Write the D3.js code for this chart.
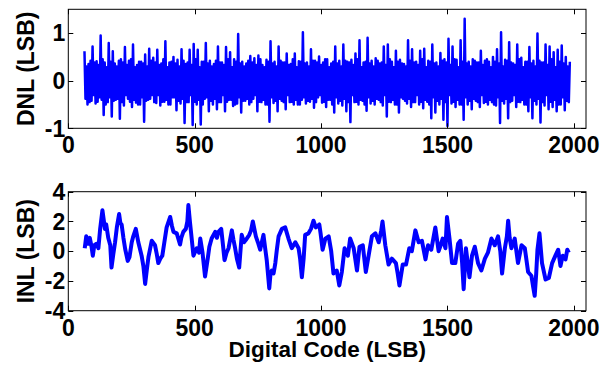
<!DOCTYPE html>
<html>
<head>
<meta charset="utf-8">
<script src="https://cdn.jsdelivr.net/npm/d3@7"></script>
<style>
  body { margin: 0; background: #fff; }
  svg { display: block; }
  text { font-family: "Liberation Sans", Arial, sans-serif; font-weight: bold; fill: #000; }
</style>
</head>
<body>
<svg id="chart" width="612" height="365"></svg>
<script>
// x axis (digital code)
const xDomain = [0, 2048];
const xTicks = [0, 500, 1000, 1500, 2000];

// DNL: one value per 4 codes, starting at code 64
const dnlStart = 64, dnlStep = 4;
const dnlValues = [
  0.62,-0.38,0.3,-0.5, 0.35,-0.45,0.42,-0.42, 0.72,-0.3,0.38,-0.48, 0.41,-0.44,0.33,-0.35, 0.95,-0.4,0.45,-0.72,
  0.38,-0.5,0.28,-0.45, 0.79,-0.35,0.4,-0.75, 0.62,-0.42,0.36,-0.4, 0.3,-0.38,0.42,-0.8, 0.45,-0.45,0.38,-0.52,
  0.71,-0.3,0.33,-0.38, 0.42,-0.44,0.45,-0.55, 0.76,-0.4,0.28,-0.46, 0.33,-0.5,0.4,-0.5, 0.4,-0.35,0.36,-0.86,
  0.55,-0.42,0.3,-0.4, 0.67,-0.38,0.42,-0.3, 0.48,-0.45,0.38,-0.47, 0.65,-0.3,0.33,-0.52, 0.36,-0.44,0.45,-0.44,
  0.83,-0.4,0.28,-0.5, 0.38,-0.5,0.4,-0.35, 0.5,-0.35,0.36,-0.62, 0.44,-0.42,0.3,-0.48, 0.66,-0.38,0.42,-0.89,
  0.35,-0.45,0.38,-0.45, 0.65,-0.3,0.33,-0.93, 0.77,-0.44,0.45,-0.5, 0.65,-0.4,0.28,-0.92, 0.4,-0.5,0.4,-0.38,
  0.79,-0.35,0.36,-0.64, 0.42,-0.42,0.3,-0.5, 0.35,-0.38,0.42,-0.6, 0.72,-0.45,0.38,-0.45, 0.38,-0.3,0.33,-0.64,
  0.71,-0.44,0.45,-0.4, 0.6,-0.4,0.28,-0.53, 0.45,-0.5,0.4,-0.48, 0.98,-0.35,0.36,-0.67, 0.4,-0.42,0.3,-0.42,
  0.36,-0.38,0.42,-0.5, 0.52,-0.45,0.38,-0.38, 0.47,-0.3,0.33,-0.64, 0.53,-0.44,0.45,-0.45, 0.33,-0.4,0.28,-0.5,
  0.44,-0.5,0.4,-0.86, 0.83,-0.35,0.36,-0.47, 0.4,-0.42,0.3,-0.64, 0.72,-0.38,0.42,-0.42, 0.38,-0.45,0.38,-0.6,
  0.57,-0.3,0.33,-0.45, 0.35,-0.44,0.45,-0.5, 0.57,-0.4,0.28,-0.5, 0.41,-0.5,0.4,-0.4, 1.02,-0.35,0.36,-0.48,
  0.38,-0.42,0.3,-0.44, 0.66,-0.38,0.42,-0.57, 0.42,-0.45,0.38,-0.35, 0.51,-0.3,0.33,-0.46, 0.38,-0.44,0.45,-0.55,
  0.45,-0.4,0.28,-0.4, 0.36,-0.5,0.4,-0.67, 0.72,-0.35,0.36,-0.48, 0.42,-0.42,0.3,-0.52, 0.76,-0.38,0.42,-0.64,
  0.4,-0.45,0.38,-0.87, 0.44,-0.3,0.33,-0.45, 0.57,-0.44,0.45,-0.5, 0.85,-0.4,0.28,-0.42, 0.38,-0.5,0.4,-0.63,
  0.9,-0.35,0.36,-0.48, 0.42,-0.42,0.3,-0.5, 0.47,-0.38,0.42,-0.4, 0.36,-0.45,0.38,-0.52, 0.72,-0.3,0.33,-0.75,
  0.76,-0.44,0.45,-0.45, 0.4,-0.4,0.28,-0.5, 0.63,-0.5,0.4,-0.67, 0.44,-0.35,0.36,-0.38, 0.35,-0.42,0.3,-0.48,
  0.85,-0.38,0.42,-0.55, 0.66,-0.45,0.38,-0.45, 0.4,-0.3,0.33,-0.5, 0.63,-0.44,0.45,-0.58, 0.67,-0.4,0.28,-0.44,
  0.42,-0.5,0.4,-0.79, 0.76,-0.35,0.36,-0.67, 0.38,-0.42,0.3,-0.5, 0.58,-0.38,0.42,-0.82, 0.45,-0.45,0.38,-0.95,
  0.88,-0.3,0.33,-0.48, 0.72,-0.44,0.45,-0.55, 0.44,-0.4,0.28,-0.5, 0.85,-0.5,0.4,-0.82, 1.3,-0.35,0.36,-0.5,
  0.4,-0.42,0.3,-0.6, 0.45,-0.38,0.42,-0.42, 0.38,-0.45,0.38,-0.55, 0.63,-0.3,0.33,-0.47, 0.42,-0.44,0.45,-0.5,
  0.4,-0.4,0.28,-0.45, 0.5,-0.5,0.4,-0.52, 0.66,-0.35,0.36,-0.89, 1.02,-0.42,0.3,-0.48, 0.44,-0.38,0.42,-0.79,
  0.81,-0.45,0.38,-0.42, 0.36,-0.3,0.33,-0.55, 0.76,-0.44,0.45,-0.45, 0.48,-0.4,0.28,-0.5, 0.4,-0.5,0.4,-0.64,
  0.71,-0.35,0.36,-0.79, 0.42,-0.42,0.3,-0.5, 0.99,-0.38,0.42,-0.88, 0.38,-0.45,0.38,-0.52, 0.76,-0.3,0.33,-0.6,
  0.72,-0.44,0.45,-0.55, 0.6,-0.4,0.28,-0.64, 0.65,-0.5,0.4,-0.5, 0.74,-0.35,0.36,-0.62, 0.5,-0.42,0.3,-0.45,
  0.4
];
const dnlDomain = [-1, 1.5];
const dnlTicks = [-1, 0, 1];

const inlCodes = [
  65, 71, 79, 85, 92, 97, 103, 112, 119, 126, 135, 145, 150, 158, 166, 171, 178, 185, 192, 201,
  206, 211, 218, 225, 235, 242, 251, 257, 267, 277, 290, 297, 304, 311, 317, 330, 343, 350, 356, 364,
  372, 380, 389, 403, 410, 416, 429, 442, 447, 455, 465, 471, 475, 481, 486, 495, 508, 517, 522, 531,
  541, 552, 558, 567, 581, 588, 594, 605, 612, 618, 626, 634, 647, 653, 660, 667, 676, 686, 695, 702,
  716, 723, 730, 742, 750, 759, 772, 778, 785, 795, 800, 805, 812, 819, 825, 832, 845, 858, 865, 871,
  884, 898, 911, 917, 924, 931, 937, 950, 960, 970, 979, 993, 998, 1006, 1017, 1030, 1040, 1049, 1062, 1072,
  1082, 1093, 1106, 1115, 1129, 1142, 1152, 1165, 1177, 1191, 1201, 1215, 1228, 1238, 1243, 1254, 1267, 1280, 1296, 1303,
  1310, 1323, 1336, 1349, 1359, 1373, 1386, 1399, 1413, 1423, 1436, 1452, 1465, 1473, 1481, 1492, 1498, 1508, 1518, 1531,
  1542, 1551, 1558, 1564, 1573, 1587, 1597, 1608, 1621, 1634, 1648, 1660, 1674, 1687, 1700, 1709, 1716, 1727, 1735, 1740,
  1746, 1753, 1766, 1779, 1793, 1806, 1819, 1832, 1839, 1845, 1851, 1856, 1864, 1874, 1888, 1901, 1914, 1927, 1938, 1947,
  1956, 1967, 1974, 1980
];
const inlValues = [
  0.2, 1.0, 0.5, 0.9, 0.3, -0.3, 0.4, 0.5, 0.2, 1.5, 2.75, 1.5, 1.8, 0.9, 0.4, -1.1, -0.2, 0.6, 1.6, 2.5,
  1.9, 1.8, 0.9, 0.15, -0.65, -0.4, 0.6, 1.0, 1.5, 0.6, -0.3, -1.0, -2.2, -1.2, -0.4, 0.7, 0.4, -0.2, -0.8, -0.5,
  -0.3, 0.6, 1.6, 2.3, 1.7, 1.3, 1.2, 0.45, 0.9, 1.3, 1.5, 2.0, 3.1, 2.0, 1.2, -0.3, 0.2, -0.1, 0.85, -0.1,
  -1.7, -0.45, 0.3, 0.85, 1.3, 0.9, 1.3, 1.5, 0.4, -0.6, -0.1, 0.2, 1.4, 0.8, 0.2, -0.5, -1.1, 1.1, 0.6, 0.75,
  1.1, 1.4, 2.0, 1.0, 0.6, 0.1, 1.1, 0.3, -0.6, -2.5, -1.5, -1.3, -1.5, -0.8, 0.1, 1.0, 1.5, 1.6, 1.2, 0.85,
  0.2, 0.6, 0.2, -0.5, -1.75, -0.5, 1.1, 1.2, 1.5, 2.05, 1.6, 1.8, 1.2, 0.1, 0.85, 1.0, 0.0, -1.5, -1.3, -2.3,
  -1.4, 0.2, -0.3, 0.85, 0.2, -1.3, 0.3, 0.4, -1.4, 0.0, 1.0, 1.2, 0.6, 1.4, 2.0, 0.4, -0.9, -0.5, -0.8, -1.5,
  -2.3, -0.9, -0.9, 0.2, 0.0, 1.4, 0.6, 0.7, -0.55, 0.4, 0.1, 1.6, 0.0, 0.4, 0.85, 0.2, 2.3, 0.85, -0.8, -0.8,
  0.5, 0.7, -0.8, -2.55, 0.2, -1.75, -0.3, 0.3, -0.8, -1.3, -0.5, -0.1, 0.85, 0.4, 1.0, 0.0, -1.5, 0.2, 1.0, 2.05,
  0.9, 0.2, 0.85, -0.8, 0.4, 0.2, -1.4, -1.65, -2.4, -3.0, -1.5, 0.1, 1.2, -0.8, -1.9, -1.8, -0.8, -0.3, 0.1, -1.0,
  -0.3, -0.55, 0.1, -0.1
];
const inlDomain = [-4, 4];
const inlTicks = [-4, -2, 0, 2, 4];

const svg = d3.select('#chart');
const left = 68.3, right = 586;
const x = d3.scaleLinear().domain(xDomain).range([left, right]);

function panel(top, bottom, yDomain, yTicks, label, points, strokeW, id) {
  const y = d3.scaleLinear().domain(yDomain).range([bottom, top]);
  const g = svg.append('g');

  g.append('clipPath').attr('id', id)
    .append('rect').attr('x', left).attr('y', top)
    .attr('width', right - left).attr('height', bottom - top);

  const line = d3.line().x(d => x(d[0])).y(d => y(d[1]));
  g.append('path')
    .datum(points)
    .attr('clip-path', `url(#${id})`)
    .attr('d', line)
    .attr('fill', 'none')
    .attr('stroke', '#0000ff')
    .attr('stroke-width', strokeW)
    .attr('stroke-linejoin', 'round');

  // box
  g.append('rect')
    .attr('x', left).attr('y', top)
    .attr('width', right - left).attr('height', bottom - top)
    .attr('fill', 'none').attr('stroke', '#000').attr('stroke-width', 1);

  // ticks inside, on all four sides (matlab style)
  const tl = 5;
  xTicks.forEach(t => {
    const px = Math.round(x(t)) + 0.5;
    g.append('line').attr('x1', px).attr('x2', px).attr('y1', bottom).attr('y2', bottom - tl).attr('stroke', '#000');
    g.append('line').attr('x1', px).attr('x2', px).attr('y1', top).attr('y2', top + tl).attr('stroke', '#000');
    g.append('text').attr('x', x(t)).attr('y', bottom + 25)
      .attr('text-anchor', 'middle').attr('font-size', 23).text(t);
  });
  yTicks.forEach(t => {
    const py = Math.round(y(t)) + 0.5;
    g.append('line').attr('x1', left).attr('x2', left + tl).attr('y1', py).attr('y2', py).attr('stroke', '#000');
    g.append('line').attr('x1', right).attr('x2', right - tl).attr('y1', py).attr('y2', py).attr('stroke', '#000');
    g.append('text').attr('x', left - 3).attr('y', y(t)).attr('dy', '0.36em')
      .attr('text-anchor', 'end').attr('font-size', 23).text(t);
  });

  g.append('text')
    .attr('transform', `translate(34,${(top + bottom) / 2}) rotate(-90)`)
    .attr('text-anchor', 'middle').attr('font-size', 23).text(label);
}

panel(9.3, 128.3, dnlDomain, dnlTicks, 'DNL (LSB)',
  dnlValues.map((v, i) => [dnlStart + i * dnlStep, v]), 2.5, 'clipDnl');
panel(191.7, 310.7, inlDomain, inlTicks, 'INL (LSB)',
  inlCodes.map((c, i) => [c, inlValues[i]]), 4, 'clipInl');

svg.append('text')
  .attr('x', (left + right) / 2).attr('y', 357)
  .attr('text-anchor', 'middle').attr('font-size', 22.5)
  .text('Digital Code (LSB)');
</script>
</body>
</html>
